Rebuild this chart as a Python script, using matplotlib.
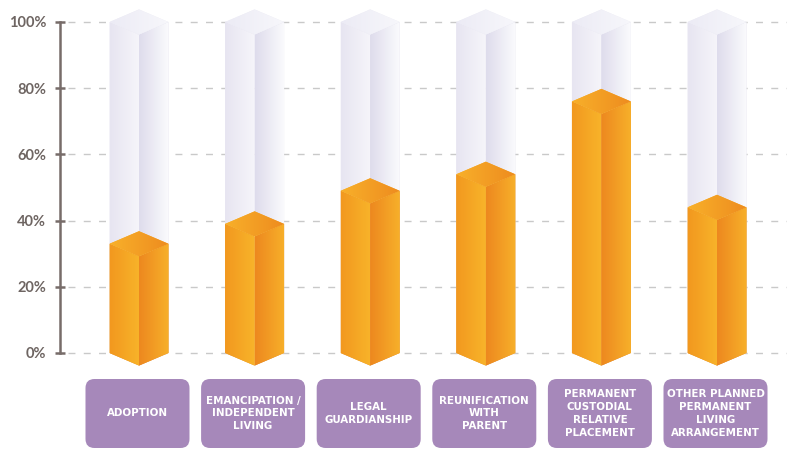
import numpy as np
import matplotlib
matplotlib.use("Agg")
import matplotlib.pyplot as plt
from matplotlib.patches import Polygon, FancyBboxPatch
from matplotlib.colors import LinearSegmentedColormap

# ---- data ----
categories = ["ADOPTION", "EMANCIPATION /\nINDEPENDENT\nLIVING", "LEGAL\nGUARDIANSHIP",
              "REUNIFICATION\nWITH\nPARENT", "PERMANENT\nCUSTODIAL\nRELATIVE\nPLACEMENT",
              "OTHER PLANNED\nPERMANENT\nLIVING\nARRANGEMENT"]
values = [33, 39, 49, 54, 76, 44]
yticks = [0, 20, 40, 60, 80, 100]
ytick_labels = ["0%", "20%", "40%", "60%", "80%", "100%"]

# ---- layout ----
W, H = 787, 449
fig = plt.figure(figsize=(W / 100, H / 100), dpi=100)
ax = fig.add_axes([0, 0, 1, 1])
px_x = 115.6          # pixels per category unit
px_y = 3.31           # pixels per percent
x0_px, y0_px = 139, 353
xlim = (-x0_px / px_x, (W - x0_px) / px_x)
ylim = (-(H - y0_px) / px_y, 100 + (y0_px - 100 * px_y) / px_y)
axis_x = (60 - x0_px) / px_x

hw = 0.255            # half width of bars (category units)
dep = 3.8             # isometric depth (percent units)


def grad_poly(pts, c1, c2, z):
    patch = Polygon(pts, closed=True, facecolor=c1, edgecolor="none", zorder=z)
    ax.add_patch(patch)
    xs = [p[0] for p in pts]
    ys = [p[1] for p in pts]
    cmap = LinearSegmentedColormap.from_list("g", [c1, c2])
    im = ax.imshow(np.linspace(0, 1, 256).reshape(1, -1), cmap=cmap,
                   extent=(min(xs), max(xs), min(ys), max(ys)), aspect="auto",
                   origin="lower", zorder=z + 0.01, interpolation="bilinear")
    im.set_clip_path(patch)


def column(c, v, cols, z):
    left = [(c - hw, 0), (c, -dep), (c, v - dep), (c - hw, v)]
    right = [(c, -dep), (c + hw, 0), (c + hw, v), (c, v - dep)]
    top = [(c - hw, v), (c, v - dep), (c + hw, v), (c, v + dep)]
    grad_poly(left, cols[0], cols[1], z)
    grad_poly(right, cols[2], cols[3], z)
    grad_poly(top, cols[4], cols[5], z + 0.1)


# gridlines
for t in yticks:
    ax.plot([axis_x + 8 / px_x, xlim[1]], [t, t], color="#c9c9c9", lw=1.0,
            linestyle=(0, (5, 6)), zorder=0.5)

white_cols = ["#e7e5f1", "#f6f5fa", "#dedcec", "#fbfbfd", "#ecebf5", "#f7f7fb"]
orange_cols = ["#f2981f", "#f8b42a", "#ed881f", "#f7b02a", "#f8b02a", "#ee8c1f"]
for i, v in enumerate(values):
    column(i, 100, white_cols, 1)
    column(i, v, orange_cols, 2)

# label boxes
box_w = 104 / px_x
box_top = (y0_px - 379) / px_y
box_bot = (y0_px - 448) / px_y
aspect = px_x / px_y
for i, lab in enumerate(categories):
    bx = FancyBboxPatch((i - 0.013 - box_w / 2, box_bot), box_w, box_top - box_bot,
                        boxstyle="round,pad=0,rounding_size=%f" % (9 / px_x),
                        mutation_aspect=aspect, facecolor="#a688ba",
                        edgecolor="none", zorder=3)
    ax.add_patch(bx)
    ax.text(i - 0.013, (box_top + box_bot) / 2, lab, ha="center", va="center",
            color="white", fontsize=7.4, fontweight="bold", family="DejaVu Sans",
            linespacing=1.36, zorder=4)

ax.set_xlim(*xlim)
ax.set_ylim(*ylim)
for s in ["top", "right", "bottom"]:
    ax.spines[s].set_visible(False)
ax.spines["left"].set_position(("data", axis_x))
ax.spines["left"].set_bounds(0, 100)
ax.spines["left"].set_color("#776c69")
ax.spines["left"].set_linewidth(1.8)
ax.set_xticks([])
ax.set_yticks(yticks)
ax.set_yticklabels(ytick_labels)
ax.tick_params(axis="y", direction="inout", length=7, width=1.8, color="#776c69",
               pad=6.5, labelsize=10.5, labelcolor="#6e6562")
for lbl in ax.get_yticklabels():
    lbl.set_fontweight("bold")
    lbl.set_family("Lato")
ax.patch.set_visible(False)
fig.savefig("out.png", dpi=100, facecolor="white")
